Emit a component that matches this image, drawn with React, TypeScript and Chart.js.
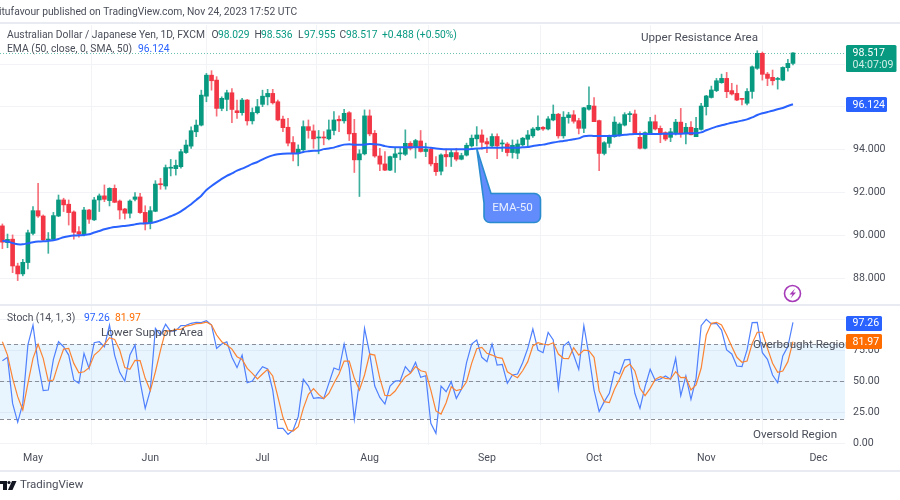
import React, { useEffect, useRef } from "react";
import { Chart, registerables } from "chart.js";

Chart.register(...registerables);

const opens = [
  90.45,89.67,89.83,88.58,88.21,88.74,90.10,91.16,90.91,89.79,
  89.82,90.91,91.66,91.46,91.10,90.18,90.03,91.19,90.73,91.66,
  91.85,91.63,92.20,91.61,91.24,91.04,91.69,91.80,91.08,90.57,
  91.13,92.40,92.31,93.14,93.12,93.21,93.87,94.17,94.84,95.15,
  96.50,97.48,97.25,95.93,96.35,96.66,95.82,95.73,96.32,95.35,
  95.73,96.12,96.47,96.63,96.24,95.43,95.05,94.34,93.84,94.00,
  95.08,94.88,94.55,94.58,94.51,94.90,95.42,95.35,95.73,94.77,
  93.53,93.81,95.58,94.77,93.71,93.34,93.05,93.64,93.81,93.79,
  94.30,94.10,94.41,93.92,94.03,93.37,93.00,93.78,93.67,93.87,
  93.56,93.75,94.18,94.51,94.69,94.38,94.18,94.62,94.27,94.27,
  93.87,93.84,94.23,94.49,94.65,94.93,95.05,94.97,95.39,95.66,
  94.65,95.50,95.63,95.36,95.00,95.89,96.04,95.36,93.83,94.30,
  94.61,94.67,95.15,95.64,95.67,94.58,94.07,94.77,95.31,95.00,
  94.80,94.58,94.80,95.29,94.74,95.05,94.61,94.95,96.01,96.44,
  96.76,97.13,97.33,96.76,96.63,96.38,96.17,96.72,97.80,98.50,
  97.53,97.38,97.28,97.25,97.83,98.029,
];
const closes = [
  89.69,89.82,88.58,88.21,88.75,90.13,91.16,90.91,89.79,89.82,
  90.93,91.66,91.43,91.07,90.15,90.07,91.19,90.76,91.66,91.85,
  91.69,92.20,91.55,91.19,91.04,91.61,91.80,91.07,90.54,91.16,
  92.40,92.37,93.17,93.17,93.27,93.91,94.22,94.89,95.15,96.55,
  97.48,97.22,95.93,96.40,96.66,95.88,95.73,96.32,95.35,95.74,
  96.01,96.50,96.63,96.19,95.39,95.03,94.31,93.84,94.03,95.08,
  94.90,94.51,94.58,94.55,94.93,95.39,95.35,95.70,94.74,93.53,
  93.81,95.58,94.74,93.71,93.33,93.05,93.68,93.81,93.84,94.30,
  94.07,94.43,93.92,94.03,93.34,92.98,93.76,93.67,93.87,93.56,
  93.73,94.21,94.54,94.69,94.35,94.27,94.62,94.18,94.30,93.87,
  94.21,94.27,94.54,94.69,94.97,95.05,94.97,95.44,95.66,94.65,
  95.52,95.63,95.33,95.00,95.96,96.07,95.31,93.83,94.33,94.64,
  95.29,95.20,95.64,95.67,94.77,94.07,94.80,95.31,94.97,94.77,
  94.50,94.84,95.29,94.77,95.05,94.70,95.00,96.04,96.51,96.79,
  97.22,97.33,96.71,96.60,96.32,96.35,96.72,97.87,98.50,97.52,
  97.33,97.22,97.31,97.84,98.03,98.517,
];
const highs = [
  90.54,90.07,90.03,88.71,88.89,90.26,91.35,92.44,90.96,90.14,
  91.08,91.89,91.74,91.66,91.15,90.42,91.32,91.22,91.78,91.94,
  92.36,92.23,92.36,91.66,91.27,91.66,92.00,91.97,91.39,91.35,
  92.56,92.67,93.29,93.55,93.52,94.02,94.45,95.07,95.39,96.78,
  97.56,97.69,97.41,96.47,96.78,96.86,96.32,96.40,96.35,95.95,
  96.35,96.78,96.82,96.82,96.32,95.57,95.47,94.62,94.23,95.35,
  95.39,95.16,94.90,94.85,95.39,95.78,95.58,95.89,95.78,95.42,
  94.00,95.86,95.86,94.90,94.07,93.92,93.71,94.07,94.07,94.93,
  94.38,94.49,94.90,94.31,94.07,93.68,93.81,94.03,94.00,94.07,
  93.84,94.31,94.69,95.08,94.93,94.54,94.74,94.74,94.46,94.34,
  94.46,94.46,94.58,94.90,95.04,95.58,95.08,95.55,96.09,95.70,
  95.78,95.75,95.83,95.47,95.98,96.94,96.44,95.39,94.38,94.69,
  95.54,95.26,95.73,95.78,95.85,94.84,94.84,95.51,95.62,95.11,
  94.84,95.00,95.42,95.93,95.23,95.31,95.51,96.17,96.54,96.97,
  97.33,97.53,97.61,97.10,97.02,96.40,96.86,97.91,98.62,98.56,
  97.61,97.72,97.38,97.87,98.22,98.536,
];
const lows = [
  89.39,89.43,88.27,87.90,88.12,88.44,90.03,90.85,89.76,89.17,
  89.76,90.88,91.12,90.49,89.83,89.92,89.98,90.57,90.70,91.12,
  91.58,91.38,91.53,90.77,90.77,90.82,91.61,91.03,90.26,90.31,
  91.11,92.16,92.16,92.78,92.82,93.14,93.83,94.06,94.61,95.11,
  96.24,96.78,95.57,95.82,95.82,95.26,95.46,95.62,95.15,95.20,
  95.67,96.01,96.09,96.13,95.35,94.84,94.18,93.48,93.25,93.96,
  94.54,94.07,93.81,94.23,94.46,94.69,94.85,95.24,94.43,92.94,
  91.82,93.76,94.65,93.65,93.02,93.03,93.02,92.94,93.53,93.73,
  93.99,93.61,93.89,93.68,93.25,92.80,92.83,93.22,93.22,93.48,
  93.53,93.71,94.12,94.18,94.03,93.87,94.15,93.59,93.92,93.71,
  93.61,93.58,94.18,94.18,94.58,94.90,94.90,94.93,95.35,94.54,
  94.54,95.24,95.24,94.74,94.80,95.85,95.31,93.03,93.76,94.11,
  94.58,94.64,95.11,95.31,94.74,94.04,94.04,94.72,94.92,94.33,
  94.42,94.38,94.69,94.58,94.27,94.69,94.61,94.92,95.62,96.41,
  96.71,97.10,96.43,96.55,96.29,96.09,96.09,96.40,97.75,97.25,
  96.99,97.02,96.83,97.22,97.67,97.955,
];
const ema50 = [
  89.76,89.72,89.65,89.59,89.59,89.64,89.69,89.72,89.73,89.75,
  89.78,89.84,89.92,89.97,90.00,90.01,90.03,90.06,90.14,90.21,
  90.29,90.35,90.40,90.42,90.45,90.48,90.52,90.56,90.57,90.59,
  90.63,90.71,90.80,90.90,91.00,91.13,91.29,91.46,91.66,91.86,
  92.12,92.31,92.48,92.64,92.78,92.90,93.03,93.12,93.23,93.34,
  93.43,93.55,93.66,93.74,93.79,93.82,93.83,93.83,93.83,93.90,
  93.93,93.95,93.96,94.03,94.06,94.10,94.18,94.24,94.26,94.24,
  94.23,94.24,94.27,94.26,94.23,94.17,94.13,94.12,94.12,94.12,
  94.12,94.12,94.12,94.12,94.09,94.06,94.04,94.03,94.03,94.03,
  94.03,94.03,94.04,94.06,94.07,94.09,94.09,94.09,94.10,94.10,
  94.10,94.10,94.12,94.13,94.18,94.21,94.24,94.29,94.34,94.38,
  94.41,94.45,94.49,94.53,94.63,94.66,94.64,94.64,94.64,94.64,
  94.66,94.67,94.70,94.72,94.74,94.74,94.74,94.74,94.74,94.74,
  94.75,94.75,94.75,94.75,94.77,94.77,94.77,94.81,94.91,95.00,
  95.08,95.14,95.20,95.26,95.31,95.36,95.42,95.51,95.62,95.70,
  95.76,95.82,95.89,95.95,96.04,96.124,
];
const stochK = [
  66.6,69.3,32.3,17.1,32.3,79.2,95.2,64.4,42.5,43.0,
  67.6,81.8,77.8,71.1,51.1,48.4,72.5,60.4,81.0,81.8,
  77.8,95.2,71.1,57.2,50.2,71.1,79.2,49.7,28.3,43.0,
  92.5,87.2,95.8,89.9,90.7,94.7,94.9,96.6,97.4,97.1,
  98.7,95.2,76.5,80.0,81.8,69.3,61.0,71.1,48.9,50.2,
  56.4,61.8,59.9,43.0,12.2,12.2,7.4,10.9,21.6,51.6,
  46.2,36.3,36.9,36.1,48.4,60.7,59.1,80.0,60.4,19.5,
  49.7,92.5,72.5,46.2,37.1,31.8,46.2,50.2,50.5,61.8,
  56.9,65.2,53.2,54.5,16.3,8.2,46.2,41.7,49.7,36.3,
  43.6,65.0,80.0,83.2,69.3,65.8,80.0,63.1,63.6,48.4,
  55.1,55.9,65.0,76.5,92.0,75.1,73.0,89.3,83.2,44.4,
  78.4,81.8,71.1,59.6,94.7,71.1,43.0,25.7,33.7,40.4,
  57.8,55.9,67.2,67.7,40.4,28.3,45.7,59.7,50.6,51.9,
  54.3,51.6,68.5,38.5,54.3,35.6,52.4,94.7,99.8,96.1,
  96.6,91.2,75.2,72.0,62.3,61.8,75.2,97.1,97.4,73.0,
  67.7,55.1,48.9,70.4,77.9,97.26,
];
const stochD = [
  81.8,71.1,52.4,37.7,27.0,48.4,68.5,79.7,68.5,50.2,
  51.1,64.4,75.9,76.5,64.4,56.9,57.7,61.0,71.1,74.6,
  79.7,85.0,83.7,75.1,61.0,59.6,66.9,66.6,52.4,42.5,
  57.7,75.1,90.7,90.4,91.7,91.7,94.4,95.2,96.3,96.6,
  97.6,95.2,87.2,81.8,79.2,75.9,69.8,67.6,60.4,56.4,
  51.9,55.9,59.6,54.3,37.7,21.1,10.9,10.1,13.6,28.3,
  39.5,44.1,39.5,36.1,40.3,48.4,55.9,66.3,66.3,52.4,
  43.0,55.1,71.9,71.1,52.4,38.7,38.5,42.2,48.4,53.7,
  56.4,61.8,58.5,57.5,43.0,26.2,23.7,32.8,45.7,42.5,
  43.6,49.7,64.4,76.2,77.3,72.5,71.1,69.3,68.5,57.7,
  55.1,52.9,58.5,65.8,78.4,81.0,80.0,79.2,81.0,71.9,
  68.5,68.2,77.0,71.1,75.1,74.6,69.3,42.3,33.7,32.9,
  43.6,51.6,61.0,63.9,58.3,44.4,38.5,44.4,51.6,53.8,
  52.4,51.9,57.8,53.0,53.2,43.1,47.1,60.5,87.2,96.6,
  97.4,95.3,87.2,77.9,69.3,65.3,66.3,80.5,89.4,89.4,
  76.5,64.5,57.2,58.3,65.8,81.97,
];

const monthLabels = ["May", "Jun", "Jul", "Aug", "Sep", "Oct", "Nov", "Dec"];
const monthIndexes = [6, 29, 51, 72, 95, 116, 138, 160];
const priceTicks = [88, 90, 92, 94, 96, 98];
const stochTicks = [0, 25, 50, 75, 100];
const stochBands = [20, 50, 80];
const lastPrice = 98.517;

const GREEN = "#089981";
const RED = "#f23645";
const BLUE = "#2962ff";
const ORANGE = "#ff6d00";
const FONT = "Roboto";
const GRID = "#f2f3f7";
const FRAME = "#e9ebf2";
const TEXT = "#4a4e59";

const candleColors = closes.map((c, i) => (c >= opens[i] ? GREEN : RED));
const wickColors = closes.map((c, i) => (c >= opens[i] ? "rgba(8,153,129,0.78)" : "rgba(242,54,69,0.72)"));
const xs = closes.map((_, i) => i);

function text(ctx: CanvasRenderingContext2D, s: string, x: number, y: number, color: string, size = 10.3, align: CanvasTextAlign = "left") {
  ctx.font = `${size}px ${FONT}`;
  ctx.fillStyle = color;
  ctx.textAlign = align;
  ctx.textBaseline = "middle";
  ctx.fillText(s, x, y);
}

function tag(ctx: CanvasRenderingContext2D, x: number, y: number, w: number, h: number, color: string) {
  ctx.fillStyle = color;
  ctx.beginPath();
  ctx.roundRect(x, y, w, h, 1.5);
  ctx.fill();
}

const backdrop = {
  id: "backdrop",
  beforeDatasetsDraw(chart: any) {
    const { ctx, chartArea, scales } = chart;
    const s = scales.y2;
    ctx.save();
    ctx.fillStyle = "rgba(33,150,243,0.10)";
    const top = s.getPixelForValue(stochBands[2]);
    const bot = s.getPixelForValue(stochBands[0]);
    ctx.fillRect(chartArea.left, top, chartArea.right - chartArea.left, bot - top);
    ctx.strokeStyle = "#8a8e99";
    ctx.lineWidth = 1;
    ctx.setLineDash([4, 3]);
    stochBands.forEach((b) => {
      const y = Math.round(s.getPixelForValue(b)) + 0.5;
      ctx.beginPath();
      ctx.moveTo(chartArea.left, y);
      ctx.lineTo(chartArea.right, y);
      ctx.stroke();
    });
    const py = Math.round(scales.y.getPixelForValue(lastPrice)) + 0.5;
    ctx.strokeStyle = "rgba(8,153,129,0.6)";
    ctx.setLineDash([1, 2]);
    ctx.beginPath();
    ctx.moveTo(chartArea.left, py);
    ctx.lineTo(chartArea.right, py);
    ctx.stroke();
    ctx.restore();
  },
};

const overlay = {
  id: "overlay",
  afterDraw(chart: any) {
    const { ctx, scales } = chart;
    ctx.save();
    // frame
    ctx.fillStyle = FRAME;
    ctx.fillRect(0, 22, 900, 2);
    ctx.fillRect(0, 304, 900, 2);
    ctx.fillRect(0, 470, 900, 2);
    // header
    text(ctx, "itufavour published on TradingView.com, Nov 24, 2023 17:52 UTC", -1, 12.5, TEXT);
    text(ctx, "Australian Dollar / Japanese Yen, 1D, FXCM", 7, 35.5, TEXT);
    const ohlc: [string, string, number, number][] = [
      ["O", "98.029", 211.5, 218], ["H", "98.536", 254.5, 261], ["L", "97.955", 298, 304], ["C", "98.517", 339.5, 346],
    ];
    ohlc.forEach(([k, v, x, vx]) => {
      text(ctx, k, x, 35.5, TEXT);
      text(ctx, v, vx, 35.5, GREEN);
    });
    text(ctx, "+0.488 (+0.50%)", 382, 35.5, GREEN);
    text(ctx, "EMA (50, close, 0, SMA, 50)", 7, 49.5, TEXT);
    text(ctx, "96.124", 138, 49.5, BLUE);
    text(ctx, "Stoch (14, 1, 3)", 7, 318, TEXT);
    text(ctx, "97.26", 84, 318, BLUE);
    text(ctx, "81.97", 115, 318, ORANGE);
    // notes
    text(ctx, "Upper Resistance Area", 641, 38, TEXT, 11.6);
    text(ctx, "Lower Support Area", 101, 333, TEXT, 11.6);
    ctx.save();
    ctx.beginPath();
    ctx.rect(0, 306, 846, 140);
    ctx.clip();
    text(ctx, "Overbought Region", 753, 345, TEXT, 11.6);
    ctx.restore();
    text(ctx, "Oversold Region", 753, 435, TEXT, 11.6);
    // callout
    ctx.fillStyle = "#628cfb";
    ctx.strokeStyle = "#2a8ccf";
    ctx.lineWidth = 1.6;
    const tipX = scales.x.getPixelForValue(93);
    const tipY = scales.y.getPixelForValue(94.06);
    ctx.beginPath();
    ctx.moveTo(tipX, tipY);
    ctx.lineTo(491, 193.5);
    ctx.lineTo(534.5, 193.5);
    ctx.arcTo(540.5, 193.5, 540.5, 199.5, 6);
    ctx.lineTo(540.5, 216.5);
    ctx.arcTo(540.5, 222.5, 534.5, 222.5, 6);
    ctx.lineTo(490, 222.5);
    ctx.arcTo(484, 222.5, 484, 216.5, 6);
    ctx.lineTo(484, 203);
    ctx.closePath();
    ctx.fill();
    ctx.stroke();
    text(ctx, "EMA-50", 512.5, 208, "#e8eeff", 11.6, "center");
    // price tags
    tag(ctx, 846, 45, 50.5, 27, GREEN);
    text(ctx, "98.517", 852.5, 53, "#ffffff", 10.6);
    text(ctx, "04:07:09", 852.5, 65, "#cfeee6", 10.6);
    tag(ctx, 846, 97, 41, 15, BLUE);
    text(ctx, "96.124", 852.5, 105, "#ffffff", 10.6);
    tag(ctx, 846, 316, 36, 15, BLUE);
    text(ctx, "97.26", 852.5, 323.5, "#ffffff", 10.6);
    tag(ctx, 846, 334, 36, 15, ORANGE);
    text(ctx, "81.97", 852.5, 342, "#ffffff", 10.6);
    // lightning
    ctx.strokeStyle = "#a63ab8";
    ctx.lineWidth = 1.6;
    ctx.beginPath();
    ctx.arc(792.5, 293.5, 8, 0, Math.PI * 2);
    ctx.stroke();
    ctx.fillStyle = "#a63ab8";
    ctx.beginPath();
    ctx.moveTo(795, 288.5);
    ctx.lineTo(789.5, 294.5);
    ctx.lineTo(792.5, 294.5);
    ctx.lineTo(790.5, 298.5);
    ctx.lineTo(796, 292.5);
    ctx.lineTo(793, 292.5);
    ctx.closePath();
    ctx.fill();
    // logo
    ctx.fillStyle = "#131722";
    ctx.fillRect(0, 481, 7, 3);
    ctx.fillRect(3, 481, 4, 9);
    ctx.beginPath();
    ctx.arc(9, 482.5, 1.6, 0, Math.PI * 2);
    ctx.fill();
    ctx.beginPath();
    ctx.moveTo(12, 481);
    ctx.lineTo(16.5, 481);
    ctx.lineTo(12.5, 490);
    ctx.lineTo(8, 490);
    ctx.closePath();
    ctx.fill();
    text(ctx, "TradingView", 20, 485, TEXT, 11.5);
    ctx.restore();
  },
};

export default function App() {
  const ref = useRef<HTMLCanvasElement>(null);
  useEffect(() => {
    const xScaleMin = -0.47;
    const xScaleMax = 165.2;
    const chart = new Chart(ref.current as HTMLCanvasElement, {
      type: "bar",
      plugins: [backdrop, overlay],
      data: {
        labels: xs,
        datasets: [
          {
            type: "line",
            label: "EMA 50",
            data: xs.map((x, i) => ({ x, y: ema50[i] })),
            borderColor: BLUE,
            borderWidth: 2,
            pointRadius: 0,
            tension: 0.3,
            xAxisID: "x",
            yAxisID: "y",
            order: 0,
          },
          {
            type: "bar",
            label: "Body",
            data: xs.map((x, i) => ({ x, y: [opens[i], closes[i]] })),
            backgroundColor: candleColors,
            barThickness: 4,
            grouped: false,
            minBarLength: 1,
            xAxisID: "x",
            yAxisID: "y",
            order: 1,
          },
          {
            type: "bar",
            label: "Wick",
            data: xs.map((x, i) => ({ x, y: [lows[i], highs[i]] })),
            backgroundColor: wickColors,
            barThickness: 1,
            grouped: false,
            xAxisID: "x",
            yAxisID: "y",
            order: 2,
          },
          {
            type: "line",
            label: "%K",
            data: xs.map((x, i) => ({ x, y: stochK[i] })),
            borderColor: "#4f80fd",
            borderWidth: 1.2,
            pointRadius: 0,
            xAxisID: "x",
            yAxisID: "y2",
            order: 4,
          },
          {
            type: "line",
            label: "%D",
            data: xs.map((x, i) => ({ x, y: stochD[i] })),
            borderColor: "#fb8433",
            borderWidth: 1.2,
            pointRadius: 0,
            xAxisID: "x",
            yAxisID: "y2",
            order: 3,
          },
        ],
      } as any,
      options: {
        responsive: false,
        animation: false,
        events: [],
        layout: { padding: { top: 25, bottom: 30, left: 0, right: 0 } },
        plugins: { legend: { display: false }, tooltip: { enabled: false }, title: { display: false } },
        scales: {
          x: {
            type: "linear",
            position: "bottom",
            min: xScaleMin,
            max: xScaleMax,
            offset: false,
            grid: { color: GRID, drawTicks: false, lineWidth: 1 },
            border: { display: false },
            afterBuildTicks: (a: any) => {
              a.ticks = monthIndexes.map((value) => ({ value }));
            },
            afterFit: (a: any) => {
              a.height = 25;
            },
            ticks: {
              autoSkip: false,
              maxRotation: 0,
              padding: 7,
              color: TEXT,
              font: { family: FONT, size: 10.6 },
              callback: (v: any) => monthLabels[monthIndexes.indexOf(v)] ?? "",
            },
          },
          y: {
            type: "linear",
            position: "right",
            stack: "panes",
            stackWeight: 280,
            min: 86.76,
            max: 99.82,
            grid: { color: GRID, drawTicks: false },
            border: { display: false },
            afterBuildTicks: (a: any) => {
              a.ticks = priceTicks.map((value) => ({ value }));
            },
            afterFit: (a: any) => {
              a.width = 55;
            },
            ticks: {
              padding: 8,
              color: TEXT,
              font: { family: FONT, size: 10.6 },
              callback: (v: any) => Number(v).toFixed(3),
            },
          },
          y2: {
            type: "linear",
            position: "right",
            stack: "panes",
            stackWeight: 140,
            min: -1.12,
            max: 111.3,
            grid: { color: GRID, drawTicks: false },
            border: { display: false },
            afterBuildTicks: (a: any) => {
              a.ticks = stochTicks.map((value) => ({ value }));
            },
            afterFit: (a: any) => {
              a.width = 55;
            },
            ticks: {
              padding: 8,
              color: TEXT,
              font: { family: FONT, size: 10.6 },
              callback: (v: any) => (Number(v) === 100 ? "" : Number(v).toFixed(2)),
            },
          },
        },
      } as any,
    });
    return () => chart.destroy();
  }, []);
  return (
    <div style={{ position: "absolute", left: 0, top: 0, width: 900, height: 500, background: "#fff" }}>
      <canvas ref={ref} width={900} height={500} style={{ display: "block" }} />
    </div>
  );
}
